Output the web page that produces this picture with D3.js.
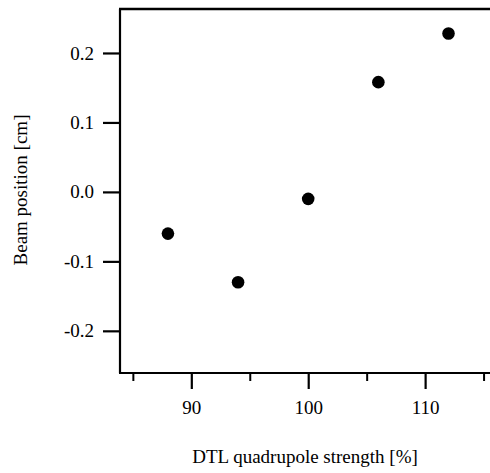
<!DOCTYPE html>
<meta charset="utf-8">
<script src="https://d3js.org/d3.v7.min.js"></script>
<style>
  body { margin: 0; background: #fff; }
  svg text { font-family: "Liberation Serif", serif !important; }
</style>
<div id="chart"></div>
<script>
// data
var strength = [88, 94, 100, 106, 112];
var position = [-0.06, -0.13, -0.01, 0.158, 0.228];
var xTicks = [90, 100, 110];
var xMinor = [85, 95, 105, 115];
var yTicks = [-0.2, -0.1, 0.0, 0.1, 0.2];

var serif = "\"Liberation Serif\", serif";

var W = 490, H = 473;
var margin = {top: 9, right: 0, bottom: 100, left: 120};
var width = W - margin.left - margin.right,
    height = H - margin.top - margin.bottom;

var svg = d3.select("#chart").append("svg")
    .attr("width", W)
    .attr("height", H);
var g = svg.append("g")
    .attr("transform", "translate(" + margin.left + "," + margin.top + ")");

var x = d3.scaleLinear().domain([83.9, 115.55]).range([0, width]);
var y = d3.scaleLinear().domain([-0.2607, 0.2633]).range([height, 0]);

// frame: left and top lines
g.append("line").attr("x1", 0).attr("x2", 0).attr("y1", 0).attr("y2", height)
  .attr("stroke", "#000").attr("stroke-width", 2.2);
g.append("line").attr("x1", -1).attr("x2", width + 5).attr("y1", 0).attr("y2", 0)
  .attr("stroke", "#000").attr("stroke-width", 2.6);

// x axis (major + minor)
var xAxis = g.append("g")
  .attr("transform", "translate(0," + height + ")")
  .call(d3.axisBottom(x).tickValues(xTicks).tickSize(16).tickSizeOuter(0).tickPadding(12)
    .tickFormat(d3.format("d")));
xAxis.select(".domain").attr("stroke-width", 2.2).attr("d", "M-1,0H" + (width + 5));
xAxis.selectAll(".tick line").attr("stroke-width", 2.2);
xAxis.selectAll("text").style("font-family", serif, "important").style("font-size", "19px");

var xMin = g.append("g")
  .attr("transform", "translate(0," + height + ")")
  .call(d3.axisBottom(x).tickValues(xMinor).tickSize(8).tickFormat(""));
xMin.select(".domain").remove();
xMin.selectAll(".tick line").attr("stroke-width", 2);

// y axis
var yAxis = g.append("g")
  .call(d3.axisLeft(y).tickValues(yTicks).tickSize(17).tickSizeOuter(0).tickPadding(9)
    .tickFormat(function(d) { return d.toFixed(1); }));
yAxis.select(".domain").remove();
yAxis.selectAll(".tick line").attr("stroke-width", 2.2);
yAxis.selectAll("text").style("font-family", serif, "important").style("font-size", "19px");

// points
g.selectAll("circle.pt")
  .data(strength)
  .enter()
  .append("circle")
  .attr("class", "pt")
  .attr("cx", function(d) { return x(d); })
  .attr("cy", function(d, i) { return y(position[i]); })
  .attr("r", 6.3)
  .attr("fill", "#000");

// axis labels
svg.append("text")
  .attr("x", 305)
  .attr("y", 463)
  .attr("text-anchor", "middle")
  .style("font-family", serif, "important")
  .style("font-size", "19px")
  .text("DTL quadrupole strength [%]");

svg.append("text")
  .attr("transform", "translate(27,190)rotate(-90)")
  .attr("text-anchor", "middle")
  .style("font-family", serif, "important")
  .style("font-size", "19px")
  .text("Beam position [cm]");
</script>
